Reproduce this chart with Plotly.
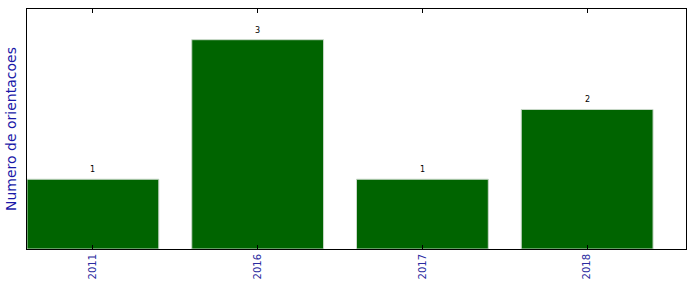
import plotly.graph_objects as go

anos = ["2011", "2016", "2017", "2018"]
valores = [1, 3, 1, 2]

fig = go.Figure()
fig.add_trace(go.Bar(
    x=list(range(len(anos))), y=valores, width=0.8,
    marker=dict(color="#006400", line=dict(color="#c8d8c8", width=1)),
))
for i, v in enumerate(valores):
    fig.add_annotation(x=i, y=v, text=str(v), showarrow=False, yanchor="bottom",
                       yshift=3, font=dict(size=8, color="black", family="DejaVu Sans"))

fig.update_layout(
    width=696, height=292, margin=dict(l=27, r=10, t=9, b=43),
    plot_bgcolor="white", paper_bgcolor="white", showlegend=False,
    font=dict(family="DejaVu Sans"),
)
fig.update_xaxes(
    range=[-0.4, 3.6], tickmode="array", tickvals=list(range(len(anos))), ticktext=anos,
    tickangle=-90, tickfont=dict(size=10, color="#2a2aa0"),
    ticks="inside", ticklen=4, tickcolor="black", tickwidth=1,
    showline=True, linecolor="black", linewidth=1, mirror="allticks",
    showgrid=False, zeroline=False,
)
fig.update_yaxes(
    range=[0, 3.44], showticklabels=False, ticks="",
    showline=True, linecolor="black", linewidth=1, mirror=True,
    showgrid=False, zeroline=False,
    title=dict(text="Numero de orientacoes", font=dict(size=14, color="#1a1aa8"), standoff=6),
)
fig.write_html("out.html")
